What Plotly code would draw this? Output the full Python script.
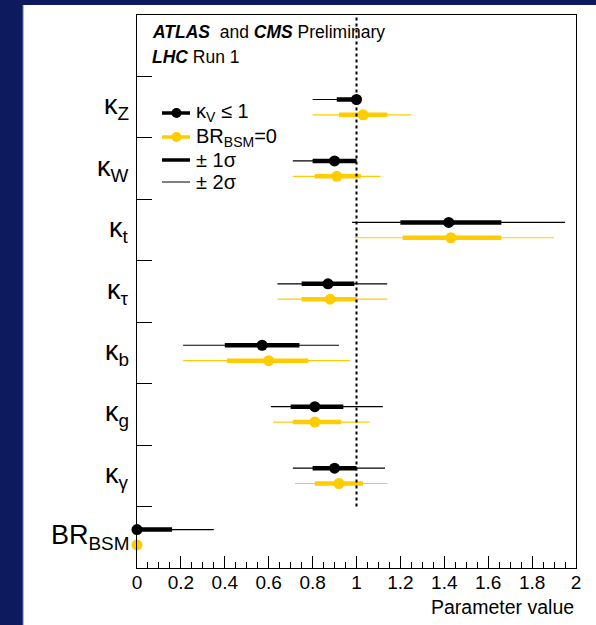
import plotly.graph_objects as go

# ---------------- data ----------------
labels = ["κ<sub>Z</sub>", "κ<sub>W</sub>", "κ<sub>t</sub>", "κ<sub>τ</sub>",
          "κ<sub>b</sub>", "κ<sub>g</sub>", "κ<sub>γ</sub>", "BR<sub>BSM</sub>"]

# kappa_V <= 1 (black)
kv_val   = [1.00, 0.90, 1.42, 0.87, 0.57, 0.81, 0.90, 0.00]
kv_lo1   = [0.91, 0.80, 1.20, 0.75, 0.40, 0.70, 0.80, 0.00]
kv_hi1   = [1.00, 1.00, 1.66, 0.99, 0.74, 0.94, 1.00, 0.16]
kv_lo2   = [0.80, 0.71, 0.98, 0.64, 0.21, 0.61, 0.71, 0.00]
kv_hi2   = [1.00, 1.00, 1.95, 1.14, 0.92, 1.12, 1.13, 0.35]

# BR_BSM = 0 (yellow)
br_val   = [1.03, 0.91, 1.43, 0.88, 0.60, 0.81, 0.92, 0.00]
br_lo1   = [0.92, 0.81, 1.21, 0.75, 0.41, 0.71, 0.81, 0.00]
br_hi1   = [1.14, 1.02, 1.66, 1.00, 0.78, 0.93, 1.03, 0.00]
br_lo2   = [0.80, 0.71, 0.99, 0.64, 0.21, 0.62, 0.72, 0.00]
br_hi2   = [1.25, 1.11, 1.90, 1.14, 0.97, 1.06, 1.14, 0.00]

xticks = [0, 0.2, 0.4, 0.6, 0.8, 1, 1.2, 1.4, 1.6, 1.8, 2]
xtick_text = ["0", "0.2", "0.4", "0.6", "0.8", "1", "1.2", "1.4", "1.6", "1.8", "2"]

legend_names = ["κ<sub>V</sub> ≤ 1", "BR<sub>BSM</sub>=0", "± 1σ", "± 2σ"]

# ---------------- styling ----------------
FONT = "Liberation Sans, Arial, Helvetica, sans-serif"
BLACK = "#000000"
YELLOW = "#FFCC00"
NAVY = "#0d1b5e"
n = len(labels)
centers = [n - i - 0.5 for i in range(n)]
OFF = 0.125
y_kv = [c + OFF for c in centers]
y_br = [c - OFF for c in centers]


def errs(val, lo, hi):
    plus = [h - v for v, h in zip(val, hi)]
    minus = [v - l for v, l in zip(val, lo)]
    return plus, minus


fig = go.Figure()

for name, val, lo1, hi1, lo2, hi2, ys, col in [
    (legend_names[0], kv_val, kv_lo1, kv_hi1, kv_lo2, kv_hi2, y_kv, BLACK),
    (legend_names[1], br_val, br_lo1, br_hi1, br_lo2, br_hi2, y_br, YELLOW),
]:
    p2, m2 = errs(val, lo2, hi2)
    p1, m1 = errs(val, lo1, hi1)
    fig.add_trace(go.Scatter(
        x=val, y=ys, mode="markers", marker=dict(size=1, color="rgba(0,0,0,0)"),
        error_x=dict(type="data", symmetric=False, array=p2, arrayminus=m2,
                     color=col, thickness=1.2, width=0),
        showlegend=False, hoverinfo="skip", cliponaxis=False))
    fig.add_trace(go.Scatter(
        x=val, y=ys, mode="markers", marker=dict(size=11, color=col), name=name,
        error_x=dict(type="data", symmetric=False, array=p1, arrayminus=m1,
                     color=col, thickness=4.5, width=0),
        showlegend=False, cliponaxis=False))

# dotted SM line
fig.add_shape(type="line", xref="x", yref="y", x0=1, x1=1, y0=1, y1=n + 1,
              line=dict(color=BLACK, width=2, dash="dot"))

# pixel helpers for page decorations
L, R, T, B = 137, 20, 15, 57
W, H = 596, 625
pw, ph = W - L - R, H - T - B


def px(xp):
    return (xp - L) / pw


def py(yp):
    return (H - B - yp) / ph


# navy frame bands (page decoration)
fig.add_shape(type="rect", xref="paper", yref="paper", x0=px(0), x1=px(23),
              y0=py(H), y1=py(0), fillcolor=NAVY, line=dict(width=0), layer="below")
fig.add_shape(type="rect", xref="paper", yref="paper", x0=px(0), x1=px(W),
              y0=py(5), y1=py(0), fillcolor=NAVY, line=dict(width=0), layer="below")
fig.add_shape(type="line", xref="paper", yref="paper", x0=px(23), x1=px(23),
              y0=py(H), y1=py(5), line=dict(color="#6070b0", width=1))

# hand-drawn legend (line symbol + optional dot + text)
leg_rows = [113, 137, 160, 182]
leg_style = [(BLACK, 3.5, True), (YELLOW, 3.5, True), (BLACK, 3.5, False), (BLACK, 1, False)]
for name, yrow, (col, lw, dot) in zip(legend_names, leg_rows, leg_style):
    fig.add_shape(type="line", xref="paper", yref="paper", x0=px(162), x1=px(190),
                  y0=py(yrow), y1=py(yrow), line=dict(color=col, width=lw))
    if dot:
        fig.add_shape(type="circle", xref="paper", yref="paper",
                      x0=px(171.5), x1=px(181.5), y0=py(yrow + 5), y1=py(yrow - 5),
                      fillcolor=col, line=dict(color=col, width=0))
    fig.add_annotation(x=px(194), y=py(yrow), xref="paper", yref="paper", text=name,
                       showarrow=False, xanchor="left", yanchor="middle",
                       font=dict(family=FONT, size=20, color=BLACK))

# category labels
for lab, c in zip(labels, centers):
    fig.add_annotation(x=px(131), y=c, xref="paper", yref="y", text=lab,
                       showarrow=False, xanchor="right", yanchor="middle",
                       font=dict(family=FONT, size=27, color=BLACK))

# header text
fig.add_annotation(x=px(150), y=py(32), xref="paper", yref="paper",
                   text="<b><i>ATLAS</i></b>  and <b><i>CMS</i></b> Preliminary",
                   showarrow=False, xanchor="left", yanchor="middle",
                   font=dict(family=FONT, size=17.5, color=BLACK))
fig.add_annotation(x=px(150), y=py(57), xref="paper", yref="paper",
                   text="<b><i>LHC</i></b> Run 1",
                   showarrow=False, xanchor="left", yanchor="middle",
                   font=dict(family=FONT, size=17.5, color=BLACK))

# x-axis title
fig.add_annotation(x=1, y=py(607), xref="paper", yref="paper", text="Parameter value",
                   showarrow=False, xanchor="right", yanchor="middle",
                   font=dict(family=FONT, size=19.5, color=BLACK))

fig.update_layout(
    width=W, height=H,
    margin=dict(l=L, r=R, t=T, b=B, pad=0),
    paper_bgcolor="white", plot_bgcolor="white",
    font=dict(family=FONT, color=BLACK),
    showlegend=False,
    xaxis=dict(range=[0, 2], showgrid=False, zeroline=False,
               showline=True, linecolor=BLACK, linewidth=1, mirror=True,
               ticks="inside", ticklen=12, tickcolor=BLACK, tickwidth=1,
               tickvals=xticks, ticktext=xtick_text, ticklabelstandoff=-3,
               tickfont=dict(family=FONT, size=19, color=BLACK),
               minor=dict(ticks="inside", ticklen=6, dtick=0.05, tick0=0,
                          tickcolor=BLACK, showgrid=False)),
    yaxis=dict(range=[0, n + 1], showgrid=False, zeroline=False,
               showline=True, linecolor=BLACK, linewidth=1, mirror=True,
               ticks="inside", ticklen=15, tickcolor=BLACK, tickwidth=1,
               tickvals=list(range(1, n + 1)), showticklabels=False),
)

fig.write_html("out.html", config={"displayModeBar": False},
               post_script="document.body.style.margin='0';document.body.style.overflow='hidden';")
